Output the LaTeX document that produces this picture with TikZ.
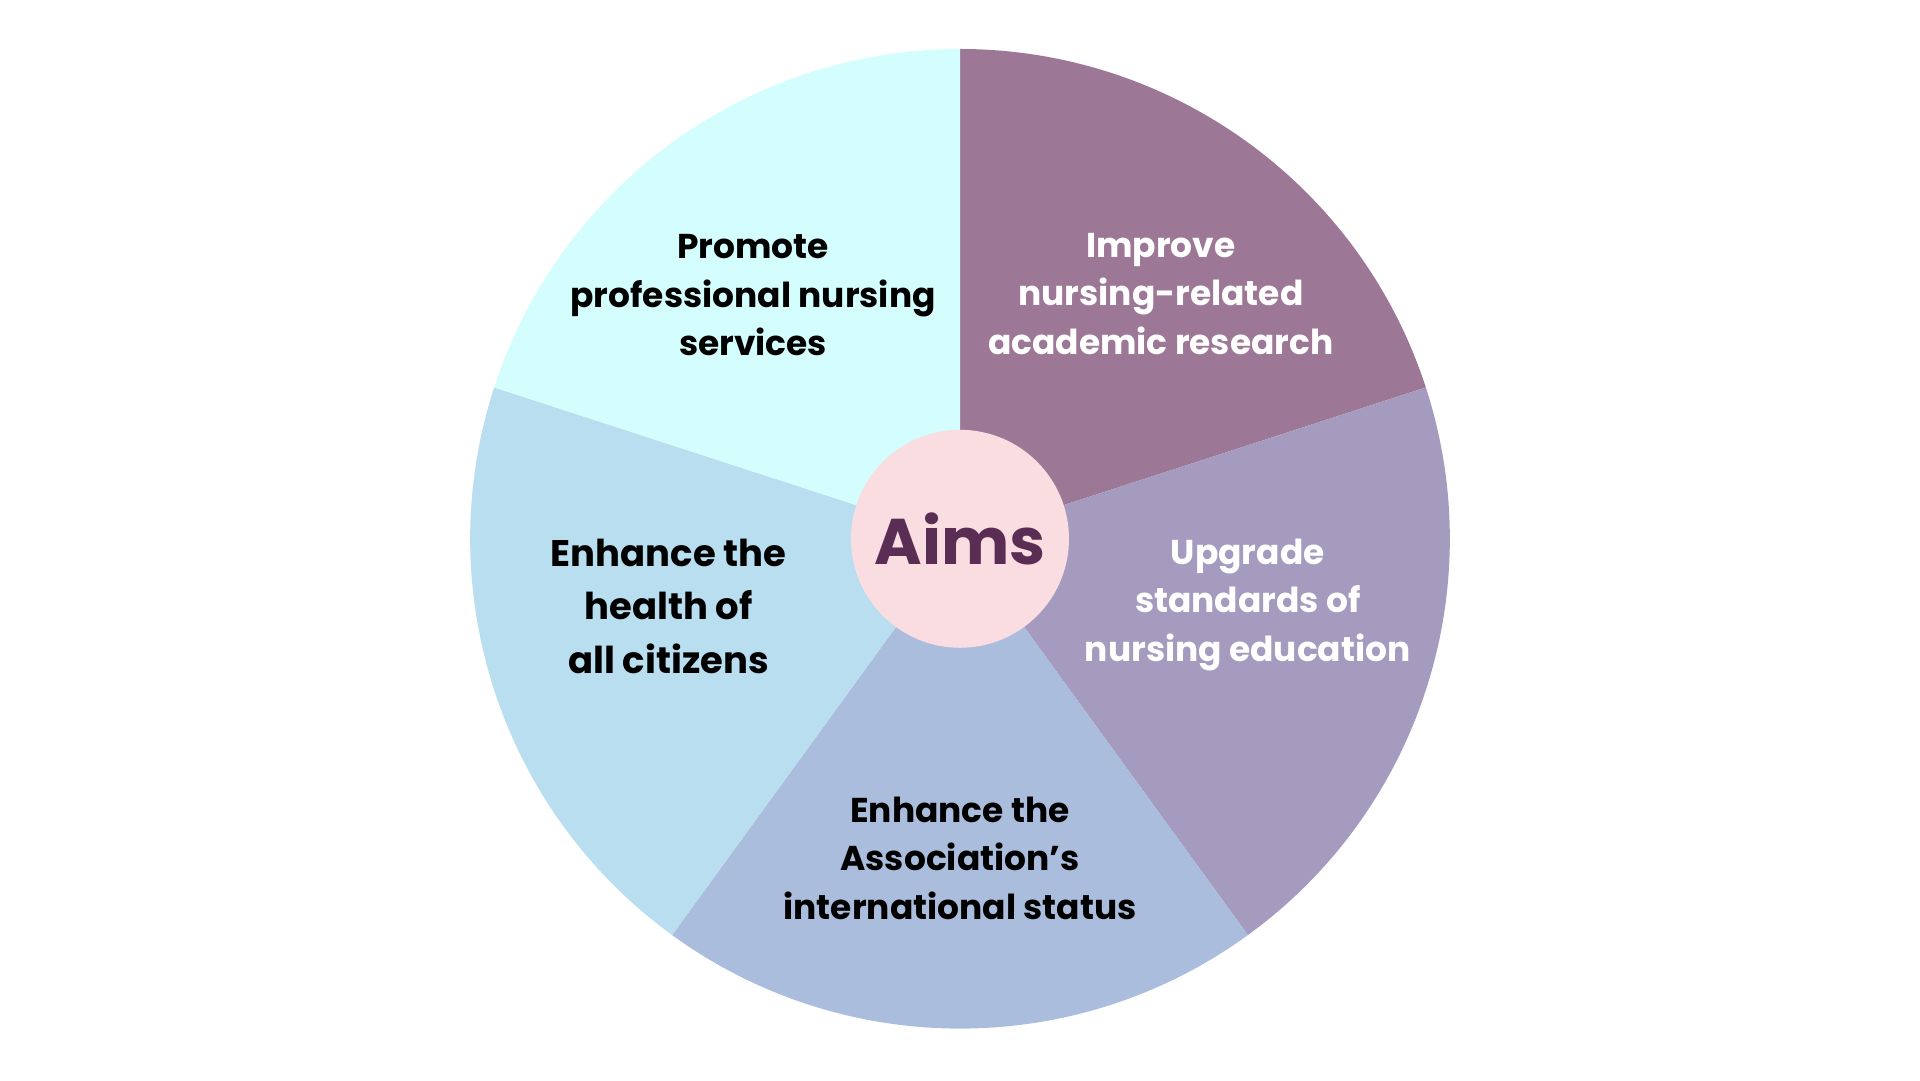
\documentclass[tikz,border=0pt]{standalone}
\usepackage{fontspec}
\setmainfont{Poppins}
\definecolor{cA}{HTML}{9C7896}
\definecolor{cB}{HTML}{A49BBF}
\definecolor{cC}{HTML}{AABDDC}
\definecolor{cD}{HTML}{B9DEEF}
\definecolor{cE}{HTML}{D4FDFD}
\definecolor{cMid}{HTML}{FADDE1}
\definecolor{cAims}{HTML}{5A2D55}
\tikzset{lbl/.style={align=center,font=\fontsize{8.0pt}{11.3pt}\selectfont\bfseries}}
\begin{document}
\begin{tikzpicture}
\useasboundingbox (0,0) rectangle (15.68,8.82);
\coordinate (c) at (7.84,4.42);
\foreach \a/\b/\col in {18/90/cA,-54/18/cB,-126/-54/cC,162/234/cD,90/162/cE}{
  \fill[\col] (c) -- ++(\a:4) arc[start angle=\a,end angle=\b,radius=4] -- cycle;
}
\node[circle,fill=cMid,minimum size=1.78cm,inner sep=0pt] (mid) at (c) {};
\node[font=\fontsize{15pt}{16pt}\selectfont\bfseries,text=cAims] (aims) at (c) {Aims};
\node[lbl] (t1) at (6.15,6.41) {Promote\\professional nursing\\services};
\node[lbl,text=white] (t2) at (9.48,6.42) {Improve\\nursing-related\\academic research};
\node[lbl,text=white] (t3) at (10.19,3.88) {Upgrade\\standards of\\nursing education};
\node[lbl] (t4) at (7.84,1.81) {Enhance the\\Association’s\\international status};
\node[lbl,font=\fontsize{8.6pt}{12.4pt}\selectfont\bfseries] (t5) at (5.46,3.87) {Enhance the\\health of\\all citizens};
\end{tikzpicture}
\end{document}
